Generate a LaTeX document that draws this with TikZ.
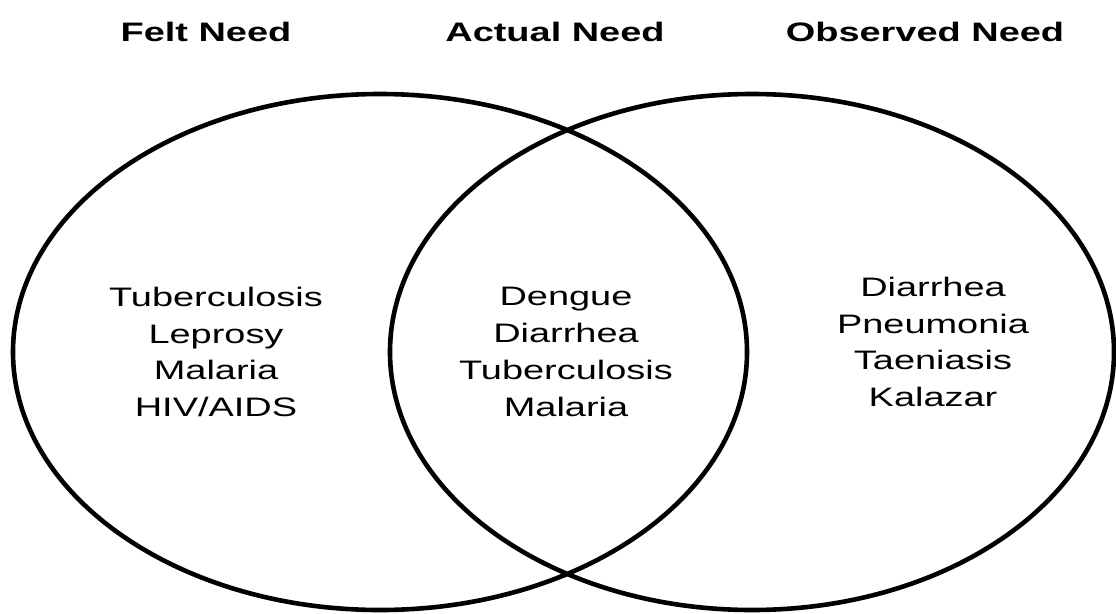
\documentclass[tikz,border=0pt]{standalone}
\usepackage{fontspec}
\setmainfont{Liberation Sans}[FakeStretch=1.42]
\usepackage{tikz}

\begin{document}
\begin{tikzpicture}[x=0.025cm,y=-0.025cm,
    font=\fontsize{19}{26.2}\selectfont,
    head/.style={font=\fontsize{19}{26.2}\selectfont\bfseries},
    venn/.style={draw=black,line width=0.115cm},
    list/.style={align=center}]
  \useasboundingbox (0,0) rectangle (1116,613);
  % titles
  \node[head] (felt) at (206,32) {Felt Need};
  \node[head] (actual) at (555,32) {Actual Need};
  \node[head] (observed) at (925,32) {Observed Need};
  % the two sets
  \draw[venn] (380,352) ellipse [x radius=367, y radius=258];
  \draw[venn] (752,352) ellipse [x radius=362, y radius=258];
  % contents
  \node[list] (feltlist) at (216,352) {Tuberculosis\\Leprosy\\Malaria\\HIV/AIDS};
  \node[list] (bothlist) at (566,352) {Dengue\\Diarrhea\\Tuberculosis\\Malaria};
  \node[list] (obslist) at (933,342) {Diarrhea\\Pneumonia\\Taeniasis\\Kalazar};
\end{tikzpicture}
\end{document}
